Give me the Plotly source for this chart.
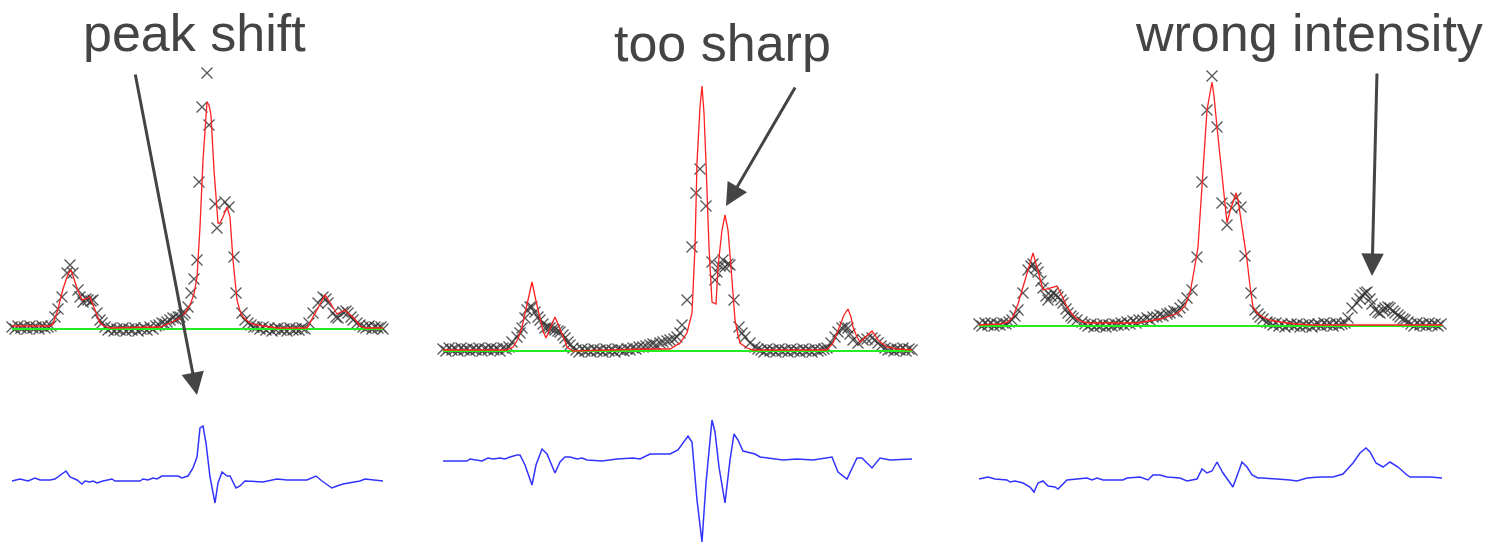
import plotly.graph_objects as go

# ---------------- data (x = channel position, y = intensity above background) ----------------
# Panel 1 : "peak shift"
p1_obs = [(12,2),(15,0),(18,3),(21,1),(24,2),(27,0),(30,3),(33,1),(36,2),(39,0),(42,3),(45,1),(48,2),(51,3),
          (55,12),(58,20),(62,32),(67,56),(70,64),(73,56),(78,39),(80,32),(83,27),(86,30),(88,29),(91,28),(93,29),
          (97,16),(100,9),(102,6),
          (105,2),(108,-1),(111,1),(114,-2),(117,0),(120,-1),(123,1),(126,-2),(129,0),(132,-1),(135,1),(138,-2),
          (141,0),(144,1),(147,-1),(150,2),(153,0),(156,3),
          (159,4),(162,6),(165,5),(167,7),(170,9),(173,11),(176,10),(178,12),(180,12),(183,14),(185,16),(188,22),
          (191,36),(194,50),(197,69),(199,147),(202,222),(207,256),(209,204),(215,125),(217,101),(225,127),
          (229,122),(234,72),(236,36),(242,16),(245,9),(248,6),(251,4),(254,2),
          (257,2),(260,0),(263,2),(266,-1),(269,1),(272,-2),(275,0),(278,1),(281,-1),(284,0),(287,-2),(290,1),
          (293,-1),(296,0),(299,-1),(302,1),(305,0),
          (309,6),(313,16),(318,26),(323,32),(326,30),(328,26),(333,16),(336,12),(338,11),(343,17),(346,18),
          (348,16),(351,12),(353,9),(357,6),(360,4),(363,2),(366,1),(369,3),(372,0),(375,2),(378,1),(381,2),(383,0)]
p1_calc = [(12,3),(50,3),(53,5),(58,20),(63,40),(68,55),(71,59),(74,50),(78,38),(82,29),(86,30),(90,32),(94,22),
           (97,13),(100,6),(104,3),(110,1),(157,2),(160,2),(170,6),(180,11),(185,16),(190,24),(194,35),(197,52),
           (200,102),(203,169),(207,227),(209,224),(211,214),(214,159),(218,106),(220,106),(223,112),(227,122),
           (230,112),(233,69),(237,29),(240,18),(243,12),(250,6),(257,4),(277,1),(307,1),(313,12),(318,22),
           (322,30),(325,34),(329,28),(333,21),(337,15),(341,17),(345,19),(349,15),(353,12),(357,7),(360,3),
           (365,1),(383,1)]
p1_diff = [(12,-1),(20,1),(28,-1),(35,2),(40,0),(50,0),(55,1),(66,9),(70,3),(77,0),(82,-4),(85,-1),(90,-2),(93,-1),
           (97,-3),(103,-1),(112,1),(115,-1),(140,-1),(143,1),(148,0),(153,2),(157,1),(162,4),(178,4),(182,2),
           (188,4),(193,12),(197,23),(200,52),(203,54),(206,37),(210,3),(215,-23),(218,-3),(222,8),(227,4),
           (230,4),(236,-8),(240,-6),(245,-1),(263,-2),(277,1),(287,0),(307,0),(316,4),(322,-1),(332,-8),
           (337,-6),(343,-4),(360,-1),(365,1),(383,-1)]
p1_bkg = [(12,0),(383,0)]

# Panel 2 : "too sharp"
p2_obs = [(443,2),(446,0),(449,3),(452,1),(455,2),(458,0),(461,3),(464,1),(467,2),(470,0),(473,2),(476,1),(479,3),
          (482,0),(485,2),(488,1),(491,3),(494,1),(497,2),(500,0),(503,3),(506,2),(509,4),
          (512,9),(517,14),(520,18),(522,23),(525,33),(527,41),(530,44),(532,44),(535,39),(538,34),(540,31),
          (543,27),(545,23),(548,24),(550,23),(553,22),(555,21),(558,20),(560,19),(563,16),(565,13),(568,9),
          (570,6),(573,3),
          (576,1),(579,-1),(582,2),(585,0),(588,1),(591,-1),(594,2),(597,0),(600,1),(603,-1),(606,2),(609,0),
          (612,1),(615,-1),(618,2),(621,1),(624,0),(627,2),(630,1),(633,3),(636,2),(639,4),
          (643,4),(646,5),(650,6),(653,7),(656,6),(660,8),(663,9),(667,10),(670,11),(674,12),(677,14),(680,18),
          (682,26),(687,51),(692,104),(696,158),(700,182),(706,145),(712,89),(715,71),(717,79),(720,85),(723,91),
          (725,84),(728,87),(730,86),(734,51),(739,24),(742,18),(745,14),(750,8),(755,4),(758,2),
          (761,1),(764,-1),(767,2),(770,0),(773,1),(776,-1),(779,2),(782,0),(785,1),(788,-1),(791,2),(794,0),
          (797,1),(800,-1),(803,2),(806,0),(809,1),(812,-1),(815,2),(818,0),(821,1),(824,2),(827,3),
          (831,8),(835,14),(838,19),(842,23),(845,24),(848,23),(850,17),(853,11),(858,8),(863,11),(867,12),
          (872,13),(875,11),(878,8),(881,5),(885,3),(888,1),(891,2),(894,0),(897,2),(900,1),(903,3),(906,0),
          (909,2),(912,1)]
p2_calc = [(443,1),(507,1),(513,4),(518,12),(522,24),(527,48),(532,69),(536,50),(540,31),(543,20),(546,13),
           (550,22),(555,34),(558,27),(562,18),(565,10),(567,4),(573,0),(650,2),(670,2),(680,8),(687,18),
           (692,38),(695,104),(697,188),(700,244),(702,265),(704,238),(706,188),(709,104),(712,49),(716,47),
           (718,84),(722,121),(725,136),(728,121),(732,71),(735,31),(738,16),(740,8),(747,3),(753,1),(827,1),
           (833,8),(837,18),(840,26),(844,36),(848,42),(851,34),(853,24),(857,14),(860,9),(866,15),(872,20),
           (875,16),(878,11),(883,7),(887,4),(897,2),(912,1)]
p2_diff = [(443,-1),(467,-1),(470,1),(478,0),(482,-1),(488,2),(493,1),(500,2),(505,1),(510,3),(517,5),(520,5),
           (525,-5),(532,-25),(536,-5),(542,11),(547,6),(555,-13),(560,-2),(565,3),(570,3),(577,1),(582,2),
           (587,0),(602,-1),(617,1),(633,2),(640,1),(650,6),(670,6),(678,10),(688,24),(692,18),(697,-40),
           (702,-82),(706,-23),(712,40),(715,28),(719,-7),(725,-43),(730,0),(734,26),(738,20),(743,9),(755,6),
           (760,3),(770,2),(783,0),(797,1),(813,0),(832,3),(838,-12),(847,-19),(857,2),(862,2),(872,-8),
           (880,2),(890,0),(912,1)]
p2_bkg = [(443,0),(912,0)]

# Panel 3 : "wrong intensity"
p3_obs = [(979,2),(982,0),(985,3),(988,1),(991,3),(994,0),(997,2),(1000,1),(1003,3),(1006,2),(1009,4),(1012,6),
          (1015,10),(1018,16),(1023,33),(1028,56),(1031,60),(1033,62),(1036,58),(1038,54),(1041,45),(1043,38),
          (1046,30),(1048,26),(1051,30),(1053,33),(1056,31),(1058,29),(1061,26),(1063,23),(1066,17),(1068,13),
          (1071,10),(1073,8),(1077,6),(1082,4),(1085,2),
          (1088,0),(1091,2),(1094,-1),(1097,1),(1100,0),(1103,2),(1106,-1),(1109,1),(1112,0),(1115,2),(1118,1),
          (1121,3),(1124,1),(1127,4),(1130,2),(1133,5),(1136,3),(1139,6),
          (1143,6),(1147,8),(1150,6),(1153,9),(1157,9),(1160,11),(1163,10),(1167,12),(1170,13),(1174,15),
          (1177,14),(1180,18),(1183,21),(1187,28),(1192,36),(1197,69),(1202,144),(1207,216),(1212,250),
          (1217,199),(1222,123),(1227,101),(1232,118),(1236,128),(1241,119),(1245,70),(1251,33),(1255,16),
          (1258,12),(1260,9),(1263,7),(1267,4),(1270,3),
          (1273,1),(1276,3),(1279,0),(1282,2),(1285,-1),(1288,1),(1291,2),(1294,0),(1297,2),(1300,-1),(1303,1),
          (1306,0),(1309,2),(1312,-1),(1315,1),(1318,2),(1321,0),(1324,3),(1327,1),(1330,2),(1333,0),(1336,3),
          (1339,1),(1342,2),
          (1345,3),(1348,8),(1352,18),(1357,23),(1360,27),(1362,31),(1365,33),(1367,34),(1370,27),(1372,22),
          (1375,16),(1378,14),(1380,13),(1383,16),(1385,18),(1388,19),(1390,18),(1393,15),(1395,13),(1398,11),
          (1400,9),(1403,7),(1405,6),(1408,4),
          (1411,2),(1414,0),(1417,3),(1420,1),(1423,2),(1426,0),(1429,3),(1432,1),(1435,2),(1438,0),(1441,2)]
p3_calc = [(979,1),(1000,2),(1008,4),(1013,9),(1018,22),(1023,39),(1028,58),(1033,73),(1038,55),(1043,36),
           (1050,38),(1057,40),(1062,30),(1067,19),(1072,12),(1077,7),(1083,4),(1090,3),(1137,3),(1150,5),
           (1160,7),(1170,10),(1178,13),(1185,20),(1190,33),(1194,55),(1198,79),(1202,140),(1207,216),
           (1212,244),(1214,230),(1217,199),(1222,150),(1227,103),(1230,115),(1233,125),(1236,133),(1238,126),
           (1240,113),(1247,66),(1250,40),(1253,19),(1258,12),(1263,9),(1270,6),(1280,4),(1295,2),(1313,1),
           (1442,1)]
p3_diff = [(979,0),(988,2),(995,0),(1007,-1),(1010,-3),(1015,-2),(1023,-4),(1030,-8),(1034,-13),(1038,-4),
           (1043,-2),(1048,-7),(1055,-8),(1058,-10),(1067,-1),(1087,1),(1092,-1),(1097,1),(1103,-1),(1123,-1),
           (1127,1),(1140,2),(1148,-1),(1153,4),(1160,4),(1167,2),(1180,1),(1187,-2),(1197,0),(1202,10),
           (1207,6),(1212,8),(1217,17),(1223,6),(1233,-8),(1242,17),(1247,12),(1252,4),(1258,1),(1263,1),
           (1290,-1),(1297,-2),(1307,1),(1320,2),(1333,2),(1343,5),(1353,16),(1360,26),(1366,31),(1370,27),
           (1376,16),(1383,12),(1390,17),(1398,12),(1407,4),(1410,2),(1423,2),(1430,2),(1442,1)]
p3_bkg = [(979,0),(1442,0)]

labels = ["peak shift", "too sharp", "wrong intensity"]

# ---------------- layout constants ----------------
W, H = 1489, 542
top_zero = [329, 351, 326]      # pixel row of background line in each panel
diff_zero = [480, 460, 479]     # pixel row of difference zero line
label_pos = [(195, 33), (722, 43), (1309, 33)]
arrow_tip = [(197, 395), (726, 206), (1372, 276)]
arrow_tail = [(135, 73), (796, 86), (1377, 72)]

TEXT = "#444444"
panels = [(p1_obs, p1_calc, p1_diff, p1_bkg),
          (p2_obs, p2_calc, p2_diff, p2_bkg),
          (p3_obs, p3_calc, p3_diff, p3_bkg)]

fig = go.Figure()

def xs(pts):
    return [p[0] for p in pts]

def ys(pts):
    return [p[1] for p in pts]

for i, (obs, calc, diff, bkg) in enumerate(panels):
    ya = "y" if i == 0 else f"y{2 * i + 1}"
    yd = f"y{2 * i + 2}"
    fig.add_trace(go.Scatter(x=xs(obs), y=ys(obs), mode="markers", yaxis=ya,
                             marker=dict(symbol="x-thin", size=11,
                                         line=dict(width=1.3, color="rgba(55,55,55,0.85)")),
                             showlegend=False, hoverinfo="skip"))
    fig.add_trace(go.Scatter(x=xs(bkg), y=ys(bkg), mode="lines", yaxis=ya,
                             line=dict(color="#22ee22", width=1.8),
                             showlegend=False, hoverinfo="skip"))
    fig.add_trace(go.Scatter(x=xs(calc), y=ys(calc), mode="lines", yaxis=ya,
                             line=dict(color="#ff2020", width=1.3),
                             showlegend=False, hoverinfo="skip"))
    fig.add_trace(go.Scatter(x=xs(diff), y=ys(diff), mode="lines", yaxis=yd,
                             line=dict(color="#3333ff", width=1.5),
                             showlegend=False, hoverinfo="skip"))

layout = dict(
    width=W, height=H, margin=dict(l=0, r=0, t=0, b=0),
    paper_bgcolor="white", plot_bgcolor="white",
    xaxis=dict(range=[0, W], domain=[0, 1], visible=False, fixedrange=True),
)
for i in range(3):
    z = top_zero[i]
    d = diff_zero[i]
    ka = "yaxis" if i == 0 else f"yaxis{2 * i + 1}"
    kd = f"yaxis{2 * i + 2}"
    layout[ka] = dict(range=[-(H - z), z], domain=[0, 1], visible=False, fixedrange=True)
    layout[kd] = dict(range=[-(H - d), d], domain=[0, 1], visible=False, fixedrange=True)
    if i > 0:
        layout[ka]["overlaying"] = "y"
    layout[kd]["overlaying"] = "y"

annotations = []
for i in range(3):
    lx, ly = label_pos[i]
    annotations.append(dict(text=labels[i], xref="paper", yref="paper",
                            x=lx / W, y=1 - ly / H, xanchor="center", yanchor="middle",
                            showarrow=False,
                            font=dict(family="Liberation Sans, Arial", size=52, color=TEXT)))
    tx, ty = arrow_tip[i]
    sx, sy = arrow_tail[i]
    annotations.append(dict(text="", xref="paper", yref="paper",
                            x=tx / W, y=1 - ty / H, ax=sx - tx, ay=sy - ty,
                            showarrow=True, arrowhead=2, arrowsize=1.5, arrowwidth=3,
                            arrowcolor=TEXT, standoff=0))
layout["annotations"] = annotations

fig.update_layout(**layout)
fig.write_html("out.html")
